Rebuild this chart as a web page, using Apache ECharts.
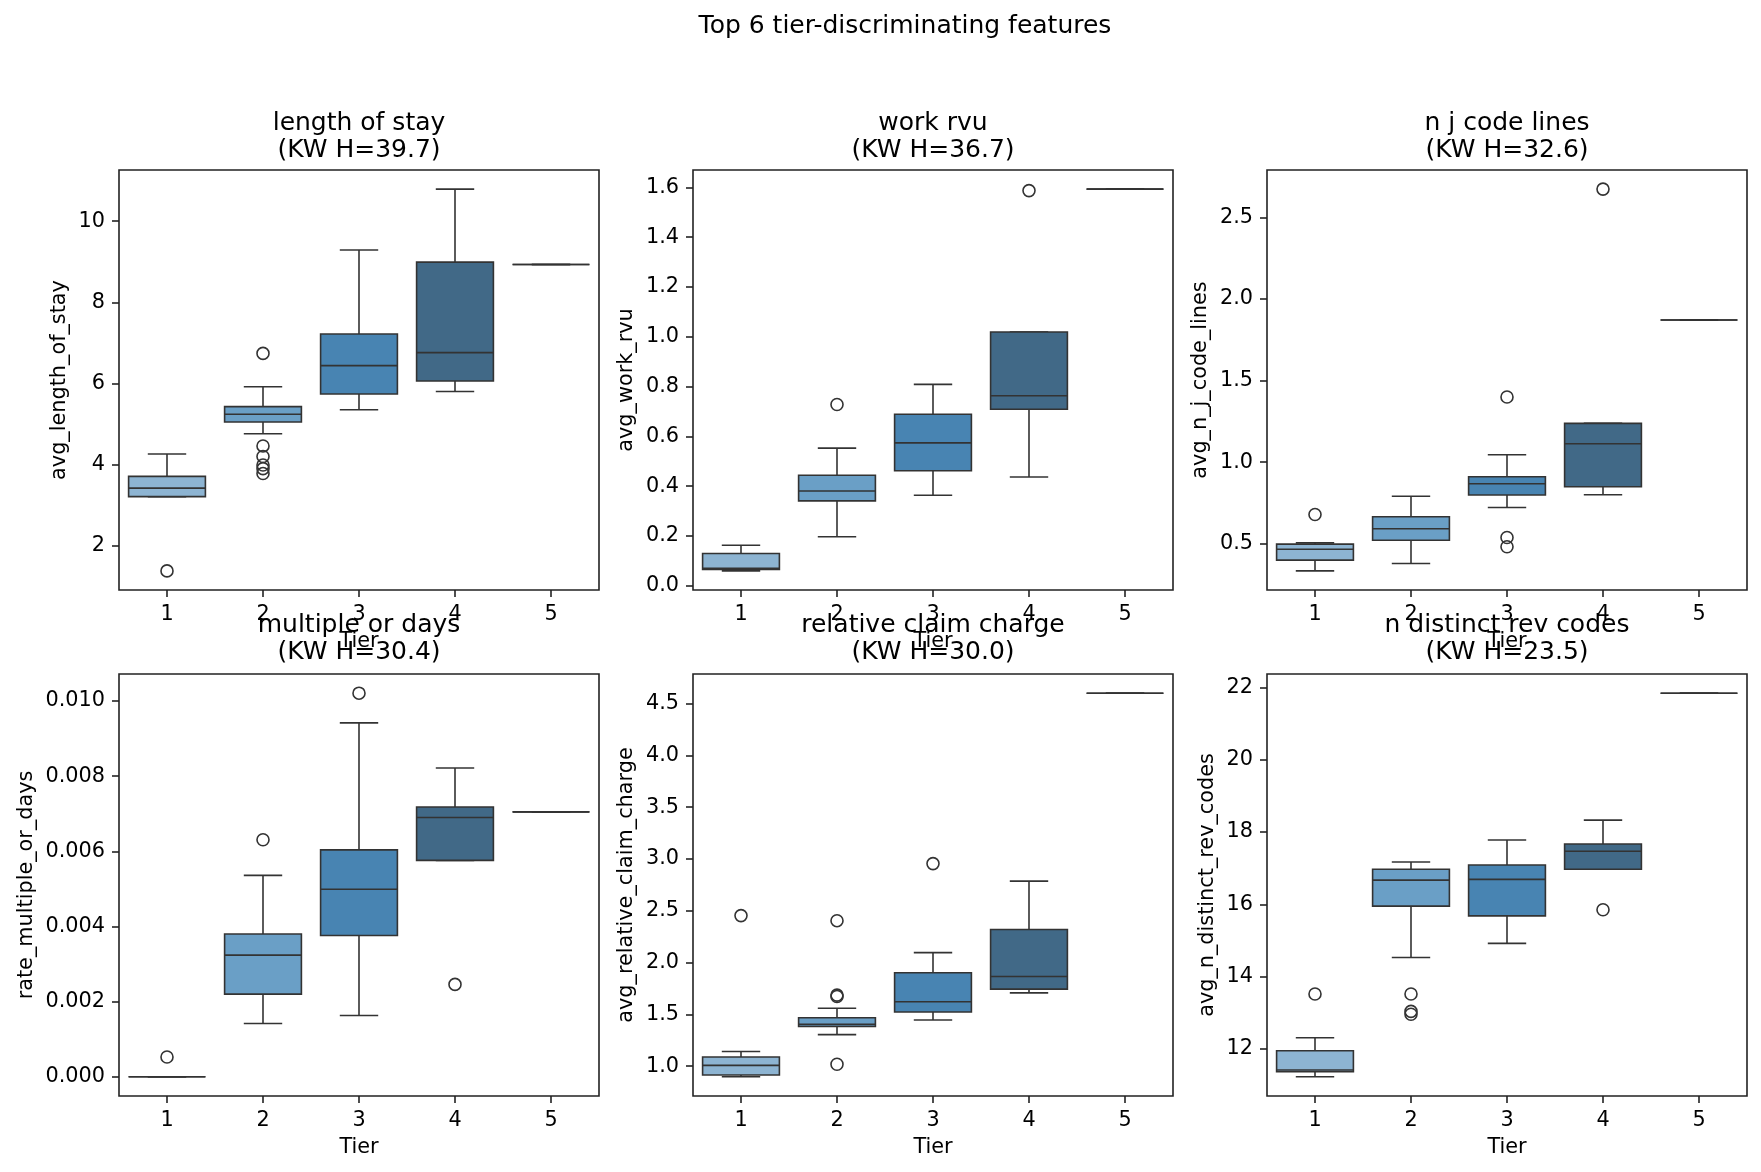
<!DOCTYPE html>
<html><head><meta charset="utf-8">
<script src="https://cdn.jsdelivr.net/npm/echarts@6/dist/echarts.min.js"></script>
<style>html,body{margin:0;padding:0;background:#fff}#c{width:1761px;height:1172px}</style>
</head><body><div id="c"></div>
<script>
const tiers = ['1', '2', '3', '4', '5'];
const tierColors = ['#8db4d2', '#6a9fc6', '#4884b2', '#416987', '#2c4a63'];

// box stats per tier: [lower whisker, Q1, median, Q3, upper whisker]
const losBox = [[3.21,3.21,3.42,3.71,4.26],[4.76,5.05,5.24,5.43,5.92],[5.35,5.74,6.44,7.22,9.29],[5.80,6.06,6.76,8.99,10.79],[8.93,8.93,8.93,8.93,8.93]];
const losOut = [['1',1.38],['2',6.74],['2',4.46],['2',4.20],['2',3.99],['2',3.90],['2',3.78]];
const rvuBox = [[0.060,0.066,0.070,0.130,0.163],[0.197,0.341,0.381,0.444,0.553],[0.364,0.462,0.574,0.689,0.809],[0.437,0.709,0.763,1.019,1.019],[1.593,1.593,1.593,1.593,1.593]];
const rvuOut = [['2',0.728],['4',1.587]];
const njBox = [[0.334,0.400,0.467,0.498,0.506],[0.379,0.522,0.592,0.666,0.792],[0.723,0.799,0.868,0.911,1.046],[0.801,0.850,1.113,1.238,1.238],[1.872,1.872,1.872,1.872,1.872]];
const njOut = [['1',0.680],['3',1.400],['3',0.539],['3',0.482],['4',2.674]];
const mordBox = [[0,0,0,0,0],[0.00142,0.0022,0.00324,0.0038,0.00536],[0.00163,0.00376,0.00499,0.00604,0.00942],[0.00576,0.00576,0.0069,0.00718,0.00822],[0.00705,0.00705,0.00705,0.00705,0.00705]];
const mordOut = [['1',0.000527],['2',0.00631],['3',0.01021],['4',0.00246]];
const rccBox = [[0.897,0.915,1.007,1.088,1.141],[1.304,1.382,1.403,1.467,1.559],[1.446,1.523,1.622,1.902,2.096],[1.707,1.743,1.866,2.319,2.786],[4.60,4.60,4.60,4.60,4.60]];
const rccOut = [['1',2.453],['2',2.404],['2',1.686],['2',1.672],['2',1.018],['3',2.955]];
const revBox = [[11.23,11.37,11.42,11.95,12.31],[14.53,15.95,16.67,16.97,17.17],[14.92,15.68,16.69,17.09,17.78],[16.97,16.97,17.47,17.67,18.33],[21.84,21.84,21.84,21.84,21.84]];
const revOut = [['1',13.52],['2',13.52],['2',13.04],['2',12.96],['4',15.85]];

const losTicks = [2,4,6,8,10];
const rvuTicks = [0,0.2,0.4,0.6,0.8,1.0,1.2,1.4,1.6];
const njTicks = [0.5,1.0,1.5,2.0,2.5];
const mordTicks = [0,0.002,0.004,0.006,0.008,0.010];
const rccTicks = [1.0,1.5,2.0,2.5,3.0,3.5,4.0,4.5];
const revTicks = [12,14,16,18,20,22];

const featureNames = ['length of stay','work rvu','n j code lines','multiple or days','relative claim charge','n distinct rev codes'];
const kwH = ['39.7','36.7','32.6','30.4','30.0','23.5'];
const yNames = ['avg_length_of_stay','avg_work_rvu','avg_n_j_code_lines','rate_multiple_or_days','avg_relative_claim_charge','avg_n_distinct_rev_codes'];

const panels = [
  {box: losBox, out: losOut, ticks: losTicks, dec: 0},
  {box: rvuBox, out: rvuOut, ticks: rvuTicks, dec: 1},
  {box: njBox, out: njOut, ticks: njTicks, dec: 1},
  {box: mordBox, out: mordOut, ticks: mordTicks, dec: 3},
  {box: rccBox, out: rccOut, ticks: rccTicks, dec: 1},
  {box: revBox, out: revOut, ticks: revTicks, dec: 0}
];

const FONT = 'DejaVu Sans';
const LINE = '#333333';
const lefts = [119, 693, 1267];
const tops = [170, 674];
const W = 480, H = [420, 422];
const nameGaps = [49, 56, 56, 82, 56, 49];

const grids = [], xAxes = [], yAxes = [], series = [], graphics = [];

function renderBox(params, api) {
  const i = api.value(0);
  const v = [1,2,3,4,5].map(k => api.value(k));
  const band = api.size([1, 0])[0];
  const bw = band * 0.8, cw = band * 0.4;
  const p = v.map(val => api.coord([i, val]));
  const cx = p[2][0];
  const st = {stroke: LINE, lineWidth: 1.6};
  return {type: 'group', children: [
    {type: 'line', shape: {x1: cx, y1: p[3][1], x2: cx, y2: p[4][1]}, style: st},
    {type: 'line', shape: {x1: cx, y1: p[1][1], x2: cx, y2: p[0][1]}, style: st},
    {type: 'line', shape: {x1: cx - cw/2, y1: p[4][1], x2: cx + cw/2, y2: p[4][1]}, style: st},
    {type: 'line', shape: {x1: cx - cw/2, y1: p[0][1], x2: cx + cw/2, y2: p[0][1]}, style: st},
    {type: 'rect', shape: {x: cx - bw/2, y: p[3][1], width: bw, height: p[1][1] - p[3][1]},
      style: {fill: tierColors[i], stroke: LINE, lineWidth: 1.6}},
    {type: 'line', shape: {x1: cx - bw/2, y1: p[2][1], x2: cx + bw/2, y2: p[2][1]}, style: st}
  ]};
}

panels.forEach((pn, k) => {
  const r = Math.floor(k / 3), c = k % 3;
  let lo = Infinity, hi = -Infinity;
  pn.box.forEach(b => b.forEach(x => { lo = Math.min(lo, x); hi = Math.max(hi, x); }));
  pn.out.forEach(o => { lo = Math.min(lo, o[1]); hi = Math.max(hi, o[1]); });
  const pad = (hi - lo) * 0.05;
  grids.push({left: lefts[c], top: tops[r], width: W, height: H[r], show: true,
    borderColor: '#222', borderWidth: 1.6, backgroundColor: 'transparent', containLabel: false, outerBoundsMode: 'none'});
  xAxes.push({type: 'category', gridIndex: k, data: tiers, boundaryGap: true, position: 'bottom',
    name: 'Tier', nameLocation: 'middle', nameGap: 41,
    nameTextStyle: {fontFamily: FONT, fontSize: 20.8, color: '#000'},
    axisLine: {show: false, onZero: false}, splitLine: {show: false},
    axisTick: {show: true, alignWithLabel: true, length: 7, inside: false, lineStyle: {color: '#222', width: 1.6}},
    axisLabel: {fontFamily: FONT, fontSize: 20.8, color: '#000', margin: 14}});
  yAxes.push({type: 'value', gridIndex: k, min: lo - pad, max: hi + pad, position: 'left',
    name: yNames[k], nameLocation: 'middle', nameGap: nameGaps[k],
    nameTextStyle: {fontFamily: FONT, fontSize: 20.8, color: '#000'},
    axisLine: {show: false, onZero: false}, splitLine: {show: false},
    axisTick: {show: true, length: 7, lineStyle: {color: '#222', width: 1.6}, customValues: pn.ticks},
    axisLabel: {fontFamily: FONT, fontSize: 20.8, color: '#000', margin: 14, customValues: pn.ticks,
      formatter: val => Number(val).toFixed(pn.dec)}});
  series.push({type: 'custom', xAxisIndex: k, yAxisIndex: k, renderItem: renderBox,
    encode: {x: 0, y: [1,2,3,4,5]},
    data: pn.box.map((b, i) => [i].concat(b)), z: 2});
  series.push({type: 'scatter', xAxisIndex: k, yAxisIndex: k, symbol: 'circle', symbolSize: 12,
    itemStyle: {color: 'rgba(255,255,255,0)', borderColor: LINE, borderWidth: 1.6, opacity: 1},
    data: pn.out, z: 3});
  const cx = lefts[c] + W / 2;
  const ty = r === 0 ? 123 : 625;
  graphics.push({type: 'text', x: cx, y: ty, style: {text: featureNames[k], fontFamily: FONT, fontSize: 25, fill: '#000', align: 'center', verticalAlign: 'middle'}});
  graphics.push({type: 'text', x: cx, y: ty + 27, style: {text: '(KW H=' + kwH[k] + ')', fontFamily: FONT, fontSize: 25, fill: '#000', align: 'center', verticalAlign: 'middle'}});
});

graphics.push({type: 'text', x: 905, y: 26, style: {text: 'Top 6 tier-discriminating features', fontFamily: FONT, fontSize: 25, fill: '#000', align: 'center', verticalAlign: 'middle'}});

const chart = echarts.init(document.getElementById('c'), null, {renderer: 'canvas'});
chart.setOption({animation: false, backgroundColor: '#fff', grid: grids, xAxis: xAxes, yAxis: yAxes, series: series, graphic: graphics});
</script></body></html>
